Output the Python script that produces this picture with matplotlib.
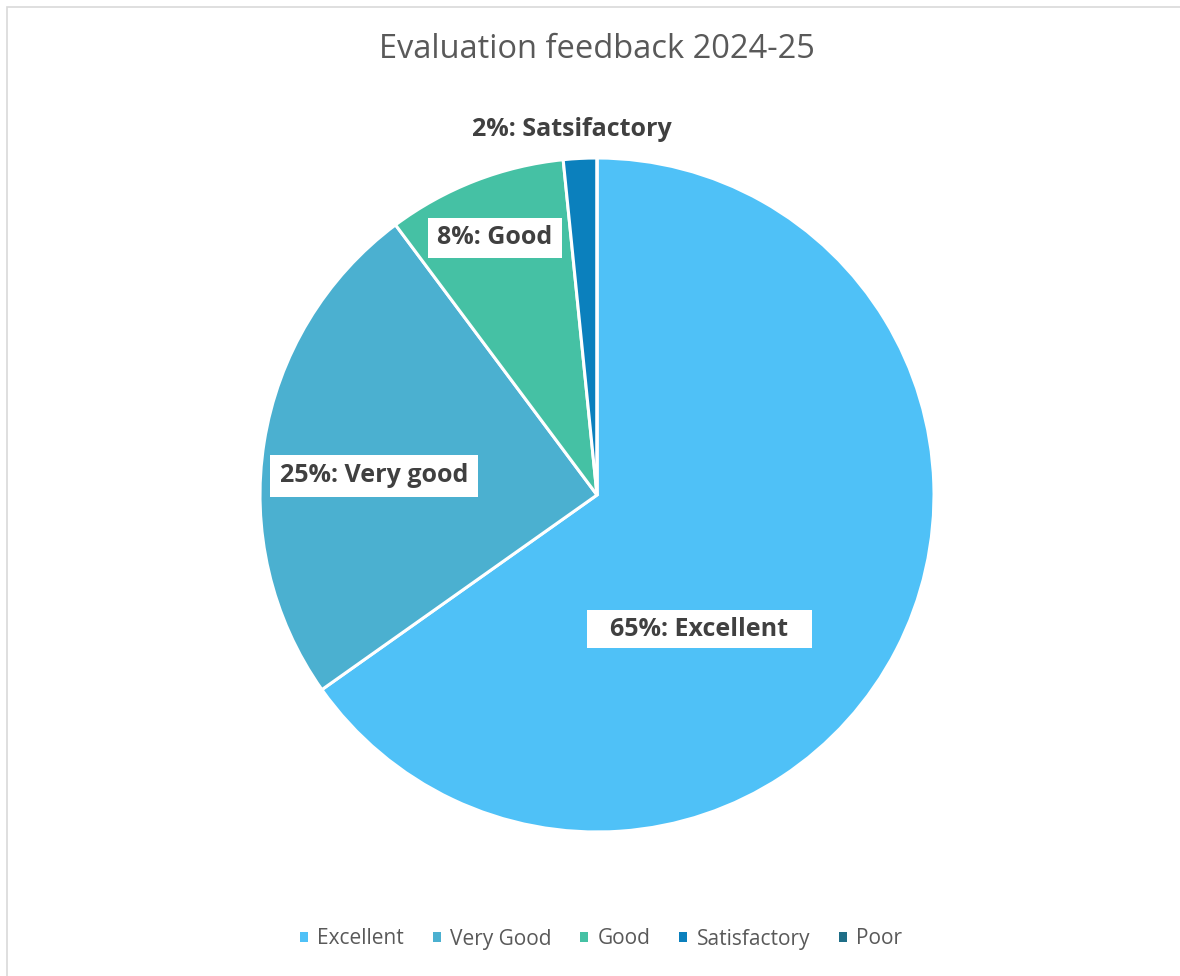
import matplotlib.pyplot as plt
from matplotlib.patches import Rectangle, Patch

categories = ['Excellent', 'Very Good', 'Good', 'Satisfactory', 'Poor']
shares = [65.2, 24.6, 8.6, 1.6, 0.0]
labels = ['65%: Excellent', '25%: Very good', '8%: Good', '2%: Satsifactory']
colors = ['#4FC1F7', '#4BB0D0', '#45C1A4', '#0B80BD', '#1F6E87']

# label boxes in pixel space: left, top, right, bottom
label_boxes = [(587, 610, 812, 648), (270, 455, 478, 497),
               (428, 218, 562, 258), (470, 112, 674, 148)]
boxed = [True, True, True, False]

plt.rcParams['font.family'] = ['Open Sans', 'DejaVu Sans']

W, H = 1180, 976
fig = plt.figure(figsize=(W / 100, H / 100), dpi=100)
ax = fig.add_axes([0, 0, 1, 1])

wedges, _ = ax.pie(shares, colors=colors, startangle=90, counterclock=False,
                   center=(597, H - 495), radius=337,
                   wedgeprops=dict(edgecolor='white', linewidth=2.2))

# pie() resets the limits, so set pixel space afterwards
ax.set_xlim(0, W)
ax.set_ylim(0, H)
ax.set_aspect('equal')
ax.axis('off')

# chart area border
ax.add_patch(Rectangle((7, -10), 1200, H - 7 + 10, fill=False,
                       edgecolor='#D9D9D9', linewidth=1.2))

for lab, (l, t, r, b), has_box in zip(labels, label_boxes, boxed):
    if has_box:
        ax.add_patch(Rectangle((l, H - b), r - l, b - t, facecolor='white',
                               edgecolor='none', zorder=3))
    ax.text((l + r) / 2, H - (t + b) / 2, lab, ha='center', va='center',
            fontsize=18, fontweight='bold', color='#404040', zorder=4)

ax.text(597, H - 50, 'Evaluation feedback 2024-25', ha='center', va='center',
        fontsize=23.5, color='#595959')

handles = [Patch(facecolor=c, edgecolor='none') for c in colors]
leg = fig.legend(handles, categories, loc='center', ncol=5,
                 bbox_to_anchor=(601 / W, 1 - 939 / H), frameon=False,
                 fontsize=15, handlelength=0.4, handleheight=0.4,
                 handletextpad=0.45, columnspacing=1.36)
for t in leg.get_texts():
    t.set_color('#595959')

fig.savefig('out.png', dpi=100)
